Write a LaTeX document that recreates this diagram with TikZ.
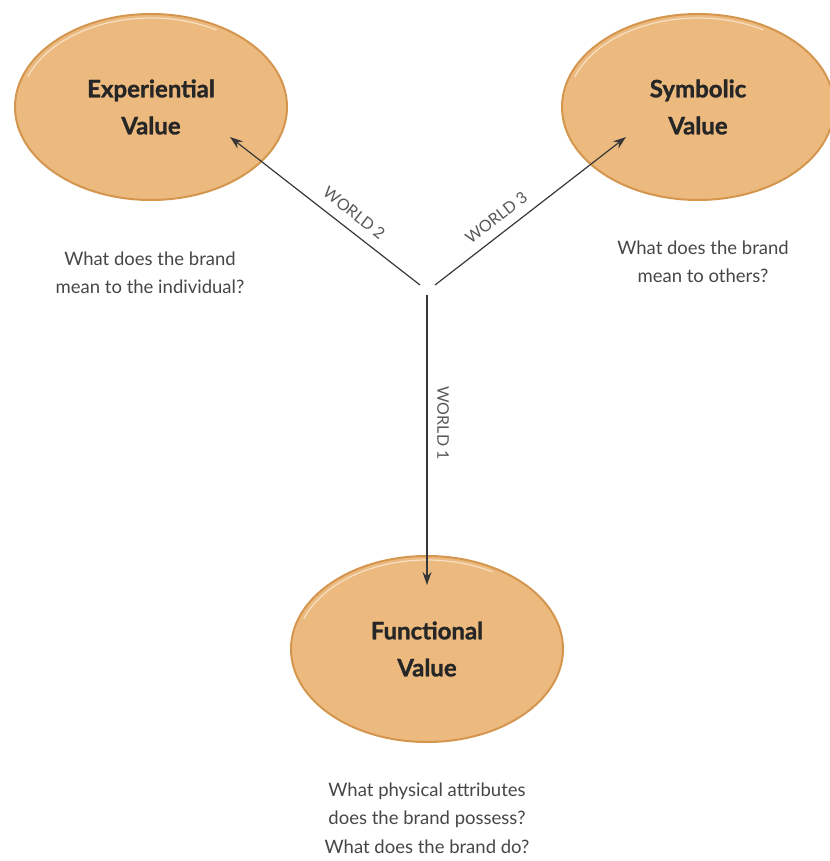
\documentclass[tikz,border=0pt]{standalone}
\usepackage{fontspec}
\setmainfont{Lato}
\newfontfamily\titlefont[BoldFeatures={FakeBold=1.3}]{Lato}
\usetikzlibrary{arrows.meta,shapes.geometric}
\definecolor{valfill}{RGB}{236,186,126}
\definecolor{valedge}{RGB}{212,150,78}
\definecolor{capgray}{RGB}{70,70,70}
\definecolor{linegray}{RGB}{55,55,55}
\tikzset{
  valnode/.style={ellipse, draw=valedge, line width=2pt, fill=valfill,
    minimum width=272pt, minimum height=186pt, inner sep=0pt,
    font=\titlefont\bfseries\fontsize{24}{37}\selectfont, text=black!85, align=center},
  caption/.style={font=\fontsize{18.5}{28.5}\selectfont, text=capgray, align=center},
  worldlbl/.style={font=\fontsize{16}{18}\selectfont, text=capgray!90, inner sep=1pt},
  link/.style={draw=linegray, line width=1.2pt, -{Stealth[length=13pt,width=9pt]}}
}
\begin{document}
\begin{tikzpicture}[x=1pt,y=-1pt]
\useasboundingbox (0,0) rectangle (829,861);
% value ellipses
\node[valnode] (exp) at (151,107) {Experiential\\Value};
\node[valnode] (sym) at (698,107) {Symbolic\\Value};
\node[valnode] (fun) at (427,649) {Functional\\Value};
% soft highlight along the upper rims
\foreach \c in {exp,sym,fun}
  \draw[white, opacity=0.55, line width=1.2pt]
    (\c.center) ++(160:131pt and 89pt) arc[start angle=160, end angle=60, x radius=131pt, y radius=89pt];
% hub and arrow ends
\coordinate (hubL) at (420,285);
\coordinate (hubR) at (435,285);
\coordinate (hubD) at (427,295);
\coordinate (expTip) at (230,137);
\coordinate (symTip) at (626,137);
\coordinate (funTip) at (427,585);
\draw[link] (hubL) -- (expTip) node[pos=0.40, above, sloped, worldlbl, yshift=9pt] {WORLD 2};
\draw[link] (hubR) -- (symTip) node[pos=0.37, above, sloped, worldlbl, yshift=8pt] {WORLD 3};
\draw[link] (hubD) -- (funTip);
\node[worldlbl, rotate=-90] (w1) at (443,423) {WORLD 1};
% questions
\node[caption] (qexp) at (150,273) {What does the brand\\mean to the individual?};
\node[caption] (qsym) at (703,262) {What does the brand\\mean to others?};
\node[caption] (qfun) at (427,818) {What physical attributes\\does the brand possess?\\What does the brand do?};
\end{tikzpicture}
\end{document}
